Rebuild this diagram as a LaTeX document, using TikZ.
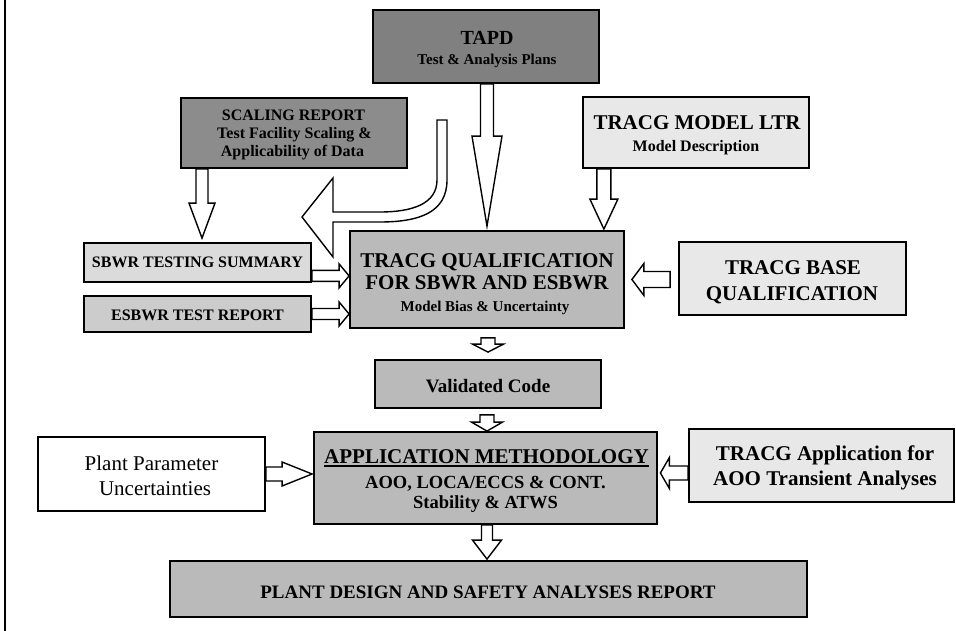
\documentclass[tikz,border=0pt]{standalone}
\usepackage{fontspec}
\setmainfont{Liberation Serif}
\usetikzlibrary{calc}
\newcommand\fs[1]{\fontsize{#1}{#1}\selectfont}
% hollow block arrows: start point, tip point, shaft half-width, head half-width, head length
\newcommand\blkdown[5]{\draw[blk] let \p1=(#1), \p2=(#2) in
 (\x2-#3pt,\y1) -- (\x2+#3pt,\y1) -- (\x2+#3pt,\y2+#5pt) -- (\x2+#4pt,\y2+#5pt)
 -- (\x2,\y2) -- (\x2-#4pt,\y2+#5pt) -- (\x2-#3pt,\y2+#5pt) -- cycle;}
\newcommand\blkright[5]{\draw[blk] let \p1=(#1), \p2=(#2) in
 (\x1,\y2+#3pt) -- (\x2-#5pt,\y2+#3pt) -- (\x2-#5pt,\y2+#4pt) -- (\x2,\y2)
 -- (\x2-#5pt,\y2-#4pt) -- (\x2-#5pt,\y2-#3pt) -- (\x1,\y2-#3pt) -- cycle;}
\newcommand\blkleft[5]{\draw[blk] let \p1=(#1), \p2=(#2) in
 (\x1,\y2+#3pt) -- (\x2+#5pt,\y2+#3pt) -- (\x2+#5pt,\y2+#4pt) -- (\x2,\y2)
 -- (\x2+#5pt,\y2-#4pt) -- (\x2+#5pt,\y2-#3pt) -- (\x1,\y2-#3pt) -- cycle;}
\tikzset{
 box/.style={draw=black, line width=1.8pt, inner sep=0pt, anchor=center},
 dark/.style={box, fill=black!50},
 mid/.style={box, fill=black!27},
 light/.style={box, fill=black!9},
 plain/.style={box, fill=white},
 txt/.style={inner sep=0pt, anchor=base},
 blk/.style={draw=black, line width=1.4pt, fill=white, line join=miter},
}
\begin{document}
\begin{tikzpicture}[x=1pt,y=-1pt]
\useasboundingbox (0,0) rectangle (956,631);
\fill[white] (0,0) rectangle (956,631);
\draw[line width=2.5pt] (5,0) -- (5,631);
% boxes
\node[dark,minimum width=226pt,minimum height=73pt] (tapd) at (486,46.5) {};
\node[dark,fill=black!45,minimum width=226pt,minimum height=70pt] (scaling) at (294,133) {};
\node[light,minimum width=226pt,minimum height=71pt] (model) at (696,132.5) {};
\node[box,fill=black!14,minimum width=227pt,minimum height=39pt] (sbwr) at (197.5,262.5) {};
\node[box,fill=black!20,minimum width=227pt,minimum height=36pt] (esbwr) at (197.5,314) {};
\node[mid,minimum width=274pt,minimum height=97pt] (qual) at (487,279.5) {};
\node[light,minimum width=227pt,minimum height=73pt] (base) at (792.5,278.5) {};
\node[mid,minimum width=226pt,minimum height=48pt] (val) at (488,384) {};
\node[mid,minimum width=343pt,minimum height=92pt] (app) at (485.5,478) {};
\node[plain,minimum width=227pt,minimum height=74pt] (plant) at (151.5,474) {};
\node[light,minimum width=265pt,minimum height=73pt] (appl) at (821.5,465.5) {};
\node[mid,minimum width=637pt,minimum height=56pt] (pd) at (488.5,589) {};
% arrows
\blkdown{tapd.south}{$(qual.north)+(0,-4)$}{6.5}{15}{90}
\blkdown{scaling.south}{$(sbwr.north)+(4.5,-4)$}{6}{13}{35}
\blkdown{model.south}{$(qual.north east)+(-21,-1)$}{7}{14}{30}
\blkright{sbwr.east}{$(qual.west|-sbwr.south)+(0,-7)$}{5.5}{12}{10}
\blkright{esbwr.east}{qual.west|-esbwr.east}{5.5}{12}{10}
\blkleft{$(base.west)+(-8,0)$}{$(qual.east)+(7,0)$}{8}{16}{12}
\blkdown{$(qual.south)+(0,9)$}{$(val.north)+(0,-7)$}{7}{15.5}{8}
\blkdown{$(val.south)+(0,6)$}{$(app.north)+(1.5,0)$}{7}{15.5}{9}
\blkdown{app.south}{$(pd.north)+(-1.5,-1)$}{5.5}{14.5}{19}
\blkright{plant.east}{$(plant.east-|app.west)+(-1,0)$}{7}{12}{30}
\blkleft{appl.west}{$(app.east)+(2.5,-5)$}{7}{15.5}{9}
\coordinate (ctip) at (302,217);
\draw[blk] (437,120) -- (447,120) -- (447,180) .. controls (447,212) and (420,222) .. (380,222)
 -- (333,222) -- (333,257) -- (ctip) -- (333,178) -- (333,212) -- (380,212)
 .. controls (412,212) and (437,204) .. (437,180) -- cycle;
% texts
\node[txt,font=\bfseries\fs{20}] (tapdA) at (487,45) {TAPD};
\node[txt,font=\bfseries\fs{15}] (tapdB) at (487,65) {Test \& Analysis Plans};
\node[txt,font=\bfseries\fs{16}] (scA) at (293.5,120.5) {SCALING REPORT};
\node[txt,font=\bfseries\fs{16}] (scB) at (294.5,139) {Test Facility Scaling \&};
\node[txt,font=\bfseries\fs{16}] (scC) at (292.5,157) {Applicability of Data};
\node[txt,font=\bfseries\fs{21}] (moA) at (697,130) {TRACG MODEL LTR};
\node[txt,font=\bfseries\fs{16}] (moB) at (696,152) {Model Description};
\node[txt,font=\bfseries\fs{16}] (sbA) at (197.5,268) {SBWR TESTING SUMMARY};
\node[txt,font=\bfseries\fs{16}] (esA) at (197.5,320) {ESBWR TEST REPORT};
\node[txt,font=\bfseries\fs{21}] (quA) at (487,267) {TRACG QUALIFICATION};
\node[txt,font=\bfseries\fs{21}] (quB) at (487,290) {FOR SBWR AND ESBWR};
\node[txt,font=\bfseries\fs{15}] (quC) at (485,311) {Model Bias \& Uncertainty};
\node[txt,font=\bfseries\fs{21}] (baA) at (793,275) {TRACG BASE};
\node[txt,font=\bfseries\fs{21}] (baB) at (792,300) {QUALIFICATION};
\node[txt,font=\bfseries\fs{19}] (vaA) at (488,392) {Validated Code};
\node[txt,font=\bfseries\fs{21}] (apA) at (486.5,463) {APPLICATION METHODOLOGY};
\node[txt,font=\bfseries\fs{18.5}] (apB) at (485.5,488) {AOO, LOCA/ECCS \& CONT.};
\node[txt,font=\bfseries\fs{18.5}] (apC) at (485.5,508) {Stability \& ATWS};
\node[txt,font=\fs{21}] (plA) at (151.5,470) {Plant Parameter};
\node[txt,font=\fs{21}] (plB) at (155,495) {Uncertainties};
\node[txt,font=\bfseries\fs{21}] (alA) at (825,460) {TRACG Application for};
\node[txt,font=\bfseries\fs{21}] (alB) at (825,485) {AOO Transient Analyses};
\node[txt,font=\bfseries\fs{19}] (pdA) at (488,598) {PLANT DESIGN AND SAFETY ANALYSES REPORT};
\draw[line width=1.8pt] ($(apA.base west)+(0,3)$) -- ($(apA.base east)+(0,3)$);
\end{tikzpicture}
\end{document}
